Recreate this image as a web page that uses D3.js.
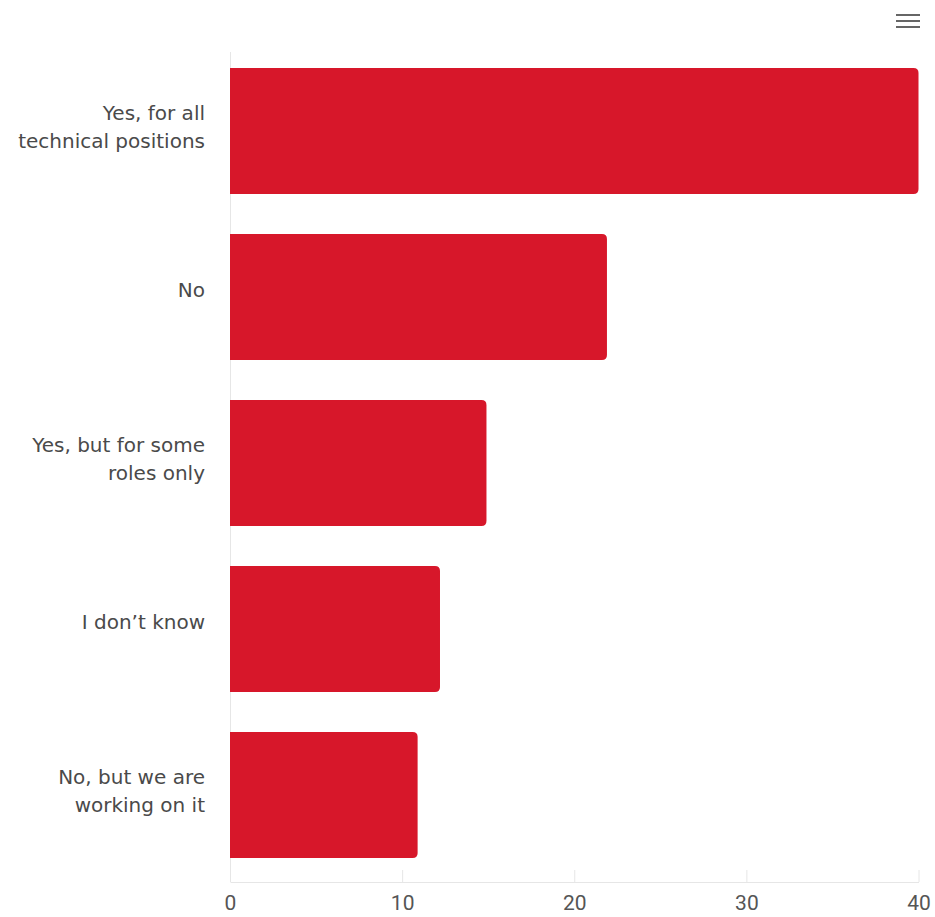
<!DOCTYPE html>
<html>
<head>
<meta charset="utf-8">
<script src="https://cdn.jsdelivr.net/npm/d3@7"></script>
<style>
  html, body { margin: 0; padding: 0; background: #fff; }
  svg { display: block; font-family: "DejaVu Sans", sans-serif; }
</style>
</head>
<body>
<svg id="chart" width="935" height="917"></svg>
<script>
// Survey answers and their counts
const categories = [
  ["Yes, for all", "technical positions"],
  ["No"],
  ["Yes, but for some", "roles only"],
  ["I don’t know"],
  ["No, but we are", "working on it"]
];
const values = [40, 21.9, 14.9, 12.2, 10.9];
const xTicks = [0, 10, 20, 30, 40];

const svg = d3.select("#chart");
const margin = { top: 52, right: 16, bottom: 35, left: 230 };
const W = 935, H = 917;
const plotW = W - margin.left - margin.right;
const plotH = H - margin.top - margin.bottom;

const x = d3.scaleLinear().domain([0, 40]).range([0, plotW - 0.5]);
const y = d3.scaleBand().domain(d3.range(categories.length)).range([-4, plotH - 4]).paddingInner(0.24).paddingOuter(0.12);

const g = svg.append("g").attr("transform", `translate(${margin.left},${margin.top})`);

// Left axis line
g.append("line")
  .attr("x1", 0.5).attr("x2", 0.5).attr("y1", 0).attr("y2", plotH)
  .attr("stroke", "#e6e6e6").attr("stroke-width", 1);

// Bars with rounded right end
const r = 5;
g.selectAll("path.bar")
  .data(values)
  .enter().append("path")
  .attr("class", "bar")
  .attr("fill", "#d7172a")
  .attr("d", (v, i) => {
    const x0 = x(0), x1 = x(v), y0 = y(i), h = y.bandwidth();
    return `M${x0},${y0} H${x1 - r} Q${x1},${y0} ${x1},${y0 + r} V${y0 + h - r} Q${x1},${y0 + h} ${x1 - r},${y0 + h} H${x0} Z`;
  });

// Category labels
const labels = g.selectAll("text.cat")
  .data(categories)
  .enter().append("text")
  .attr("class", "cat")
  .attr("text-anchor", "end")
  .attr("fill", "#4a4a4a")
  .style("font-size", "20px")
  .attr("x", -25)
  .attr("y", (d, i) => y(i) + y.bandwidth() / 2);
labels.each(function (lines) {
  const t = d3.select(this);
  const lh = 28;
  const off = lines.length > 1 ? -(lines.length - 1) * lh / 2 + 3 : 0;
  lines.forEach((s, k) => {
    t.append("tspan").attr("x", -25).attr("dy", k === 0 ? off : lh).text(s);
  });
});

// Bottom axis
const axis = g.append("g").attr("transform", `translate(0,${plotH})`)
  .call(d3.axisBottom(x).tickValues(xTicks).tickSize(0).tickPadding(13).tickFormat(d3.format("d")));
axis.select(".domain").attr("stroke", "#e6e6e6");
axis.selectAll("text").attr("fill", "#555").style("font-size", "21px").style("font-family", "Roboto, sans-serif");
axis.selectAll(".tick").append("line")
  .attr("y1", 0).attr("y2", -12).attr("stroke", "#e6e6e6");

// Menu icon
const menu = svg.append("g").attr("transform", "translate(896,15)");
[0, 6, 12].forEach(dy => {
  menu.append("line").attr("x1", 0).attr("x2", 24).attr("y1", dy).attr("y2", dy)
    .attr("stroke", "#666").attr("stroke-width", 2);
});
</script>
</body>
</html>
